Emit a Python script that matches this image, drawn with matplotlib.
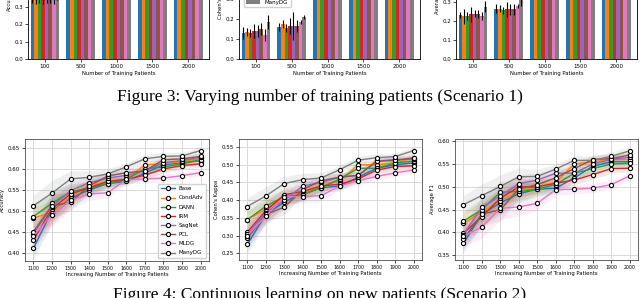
import numpy as np
import matplotlib.pyplot as plt

methods = ['Base', 'CondAdv', 'DANN', 'IRM', 'SagNet', 'PCL', 'MLDG', 'ManyDG']
colors = ['tab:blue', 'tab:orange', 'tab:green', 'tab:red',
          'tab:purple', 'tab:brown', 'tab:pink', 'tab:gray']

# ---- Figure 3 (bar charts, top part cropped) ----
bar_groups = ['100', '500', '1000', '1500', '2000']

bar_acc = [[0.35, 0.345, 0.35, 0.345, 0.35, 0.35, 0.345, 0.37],
           [0.43, 0.43, 0.42, 0.43, 0.43, 0.43, 0.44, 0.46],
           [0.53, 0.53, 0.53, 0.53, 0.54, 0.54, 0.52, 0.56],
           [0.58, 0.58, 0.58, 0.57, 0.58, 0.59, 0.56, 0.60],
           [0.61, 0.61, 0.61, 0.60, 0.62, 0.62, 0.59, 0.64]]
bar_acc_err = [0.03, 0.02, 0.015, 0.01, 0.01]

bar_kappa = [[0.130, 0.133, 0.132, 0.140, 0.142, 0.150, 0.122, 0.185],
             [0.160, 0.175, 0.155, 0.165, 0.165, 0.165, 0.185, 0.210],
             [0.40, 0.41, 0.40, 0.40, 0.41, 0.42, 0.39, 0.44],
             [0.46, 0.47, 0.46, 0.46, 0.47, 0.47, 0.45, 0.49],
             [0.50, 0.51, 0.50, 0.49, 0.51, 0.51, 0.48, 0.53]]
kappa_bar_err = [[0.03, 0.02, 0.02, 0.035, 0.03, 0.03, 0.03, 0.035],
                 [0.02, 0.02, 0.02, 0.04, 0.07, 0.03, 0.01, 0.01],
                 [0.02, 0.02, 0.02, 0.02, 0.02, 0.02, 0.02, 0.02],
                 [0.01, 0.01, 0.01, 0.01, 0.01, 0.01, 0.01, 0.01],
                 [0.01, 0.01, 0.01, 0.01, 0.01, 0.01, 0.01, 0.01]]

bar_f1 = [[0.230, 0.225, 0.225, 0.235, 0.238, 0.235, 0.225, 0.275],
          [0.265, 0.265, 0.255, 0.260, 0.260, 0.260, 0.280, 0.310],
          [0.45, 0.46, 0.45, 0.45, 0.46, 0.46, 0.44, 0.49],
          [0.51, 0.52, 0.51, 0.51, 0.52, 0.52, 0.50, 0.54],
          [0.54, 0.55, 0.54, 0.53, 0.55, 0.55, 0.52, 0.57]]
f1_bar_err = [[0.015, 0.04, 0.02, 0.04, 0.02, 0.02, 0.02, 0.03],
              [0.025, 0.02, 0.02, 0.04, 0.03, 0.03, 0.01, 0.03],
              [0.02, 0.02, 0.02, 0.02, 0.02, 0.02, 0.02, 0.02],
              [0.01, 0.01, 0.01, 0.01, 0.01, 0.01, 0.01, 0.01],
              [0.01, 0.01, 0.01, 0.01, 0.01, 0.01, 0.01, 0.01]]

# ---- Figure 4 (line charts) ----
patients = [1100, 1200, 1300, 1400, 1500, 1600, 1700, 1800, 1900, 2000]

acc = {
    'Base':    [0.410, 0.500, 0.530, 0.550, 0.565, 0.570, 0.590, 0.610, 0.615, 0.620],
    'CondAdv': [0.483, 0.495, 0.535, 0.560, 0.570, 0.575, 0.610, 0.612, 0.618, 0.625],
    'DANN':    [0.486, 0.518, 0.545, 0.555, 0.565, 0.575, 0.600, 0.605, 0.612, 0.622],
    'IRM':     [0.430, 0.505, 0.540, 0.555, 0.570, 0.575, 0.585, 0.600, 0.608, 0.612],
    'SagNet':  [0.445, 0.510, 0.548, 0.567, 0.578, 0.585, 0.595, 0.615, 0.620, 0.628],
    'PCL':     [0.450, 0.512, 0.520, 0.560, 0.583, 0.591, 0.595, 0.622, 0.624, 0.630],
    'MLDG':    [0.440, 0.490, 0.525, 0.540, 0.543, 0.575, 0.576, 0.578, 0.584, 0.591],
    'ManyDG':  [0.512, 0.542, 0.576, 0.580, 0.588, 0.605, 0.624, 0.630, 0.631, 0.644],
}
acc_std = [0.025, 0.03, 0.02, 0.015, 0.012, 0.01, 0.01, 0.01, 0.008, 0.008]

kappa = {
    'Base':    [0.275, 0.360, 0.395, 0.420, 0.435, 0.440, 0.465, 0.490, 0.500, 0.505],
    'CondAdv': [0.345, 0.375, 0.405, 0.420, 0.440, 0.455, 0.500, 0.500, 0.505, 0.520],
    'DANN':    [0.345, 0.383, 0.410, 0.415, 0.435, 0.460, 0.490, 0.490, 0.505, 0.510],
    'IRM':     [0.310, 0.370, 0.415, 0.425, 0.440, 0.445, 0.460, 0.485, 0.495, 0.497],
    'SagNet':  [0.305, 0.365, 0.400, 0.440, 0.450, 0.465, 0.470, 0.510, 0.515, 0.515],
    'PCL':     [0.292, 0.360, 0.380, 0.430, 0.455, 0.465, 0.470, 0.510, 0.512, 0.520],
    'MLDG':    [0.300, 0.355, 0.410, 0.410, 0.413, 0.440, 0.455, 0.467, 0.477, 0.485],
    'ManyDG':  [0.382, 0.412, 0.447, 0.458, 0.463, 0.486, 0.513, 0.520, 0.523, 0.540],
}
kappa_std = [0.025, 0.025, 0.02, 0.018, 0.015, 0.012, 0.012, 0.01, 0.01, 0.01]

f1 = {
    'Base':    [0.376, 0.440, 0.465, 0.485, 0.495, 0.497, 0.520, 0.545, 0.555, 0.555],
    'CondAdv': [0.420, 0.445, 0.470, 0.490, 0.500, 0.510, 0.550, 0.555, 0.560, 0.560],
    'DANN':    [0.425, 0.450, 0.488, 0.490, 0.495, 0.505, 0.530, 0.540, 0.550, 0.552],
    'IRM':     [0.398, 0.435, 0.475, 0.500, 0.500, 0.508, 0.515, 0.527, 0.540, 0.541],
    'SagNet':  [0.395, 0.455, 0.480, 0.507, 0.515, 0.530, 0.530, 0.550, 0.560, 0.565],
    'PCL':     [0.385, 0.440, 0.450, 0.495, 0.505, 0.520, 0.540, 0.560, 0.562, 0.570],
    'MLDG':    [0.392, 0.412, 0.453, 0.456, 0.464, 0.494, 0.495, 0.497, 0.505, 0.524],
    'ManyDG':  [0.461, 0.481, 0.501, 0.522, 0.523, 0.539, 0.558, 0.558, 0.567, 0.579],
}
f1_std = [0.02, 0.025, 0.025, 0.02, 0.015, 0.012, 0.01, 0.01, 0.01, 0.008]

W, H = 640, 298
fig = plt.figure(figsize=(W / 100, H / 100), dpi=100)
plt.rcParams['font.family'] = 'DejaVu Sans'


def px_axes(left, bottom, width, height):
    # pixel box (left, bottom edge y from top, width, height) -> axes
    return fig.add_axes([left / W, 1 - bottom / H, width / W, height / H])


def bar_panel(ax, vals, errs, ylabel, ytop):
    vals = np.array(vals)
    errs = np.array(errs, dtype=float)
    if errs.ndim == 1:
        errs = np.repeat(errs[:, None], len(methods), axis=1)
    x = np.arange(len(bar_groups))
    w = 0.1
    for i, m in enumerate(methods):
        ax.bar(x + (i - 3.5) * w, vals[:, i], w, color=colors[i], label=m,
               yerr=errs[:, i], error_kw=dict(ecolor='black', elinewidth=0.8, capsize=0))
    ax.set_xticks(x)
    ax.set_xticklabels(bar_groups)
    ax.set_xlim(-0.47, 4.58)
    ax.set_ylim(0, ytop)
    ax.set_yticks(np.arange(0, ytop, 0.1))
    ax.set_yticklabels(['%.1f' % t for t in np.arange(0, ytop, 0.1)])
    ax.tick_params(labelsize=4, length=2, width=0.5, pad=1.5)
    ax.set_xlabel('Number of Training Patients', fontsize=3.8, labelpad=1.5)
    ax.set_ylabel(ylabel, fontsize=3.8, labelpad=2)
    for s in ax.spines.values():
        s.set_linewidth(0.6)


ax1 = px_axes(28, 59, 181, 120)
bar_panel(ax1, bar_acc, bar_acc_err, 'Accuracy', 0.69)
ax2 = px_axes(239, 59, 181, 120)
bar_panel(ax2, bar_kappa, kappa_bar_err, "Cohen's Kappa", 0.6)
ax3 = px_axes(456, 59, 181, 120)
bar_panel(ax3, bar_f1, f1_bar_err, 'Average F1', 0.63)
ax2.legend(loc='lower left', bbox_to_anchor=(241 / W, 1 - 10 / H),
           bbox_transform=fig.transFigure, fontsize=4, framealpha=0.9,
           handlelength=2.5, borderpad=0.4, labelspacing=0.6, edgecolor='0.8')


def line_panel(ax, data, std, ylabel, ylim, yticks, legend=False):
    std = np.array(std)
    for i, m in enumerate(methods):
        y = np.array(data[m])
        ax.fill_between(patients, y - std, y + std, color=colors[i], alpha=0.12, lw=0)
    for i, m in enumerate(methods):
        ax.plot(patients, data[m], '-o', color=colors[i], lw=1.0, label=m,
                markersize=3.0, markerfacecolor='white', markeredgecolor='black',
                markeredgewidth=0.8)
    ax.set_xticks(patients)
    ax.set_ylim(*ylim)
    ax.set_yticks(yticks)
    ax.set_yticklabels(['%.2f' % t for t in yticks])
    ax.grid(True, color='0.85', lw=0.7)
    ax.set_axisbelow(True)
    ax.tick_params(axis='y', labelsize=4, length=2, width=0.5, pad=1.5)
    ax.tick_params(axis='x', labelsize=3.4, length=2, width=0.5, pad=1.5)
    ax.set_xlabel('Increasing Number of Training Patients', fontsize=3.8, labelpad=1)
    ax.set_ylabel(ylabel, fontsize=3.8, labelpad=2)
    for s in ax.spines.values():
        s.set_linewidth(0.6)
        s.set_color('0.3')
    if legend:
        ax.legend(loc='lower right', fontsize=4, handlelength=2.5,
                  labelspacing=0.75, borderpad=0.5, framealpha=0.9, edgecolor='0.8')


bx1 = px_axes(25, 261, 184, 122)
line_panel(bx1, acc, acc_std, 'Accuracy', (0.38, 0.6715),
           [0.40, 0.45, 0.50, 0.55, 0.60, 0.65], legend=True)
bx2 = px_axes(239, 260, 183, 121)
line_panel(bx2, kappa, kappa_std, "Cohen's Kappa", (0.231, 0.5727),
           [0.25, 0.30, 0.35, 0.40, 0.45, 0.50, 0.55])
bx3 = px_axes(455, 260, 183, 121)
line_panel(bx3, f1, f1_std, 'Average F1', (0.3397, 0.605),
           [0.35, 0.40, 0.45, 0.50, 0.55, 0.60])

fig.text(0.5, 1 - 101 / H, 'Figure 3: Varying number of training patients (Scenario 1)',
         ha='center', va='baseline', fontsize=12.5, family='Liberation Serif')
fig.text(0.5, 1 - 299 / H, 'Figure 4: Continuous learning on new patients (Scenario 2)',
         ha='center', va='baseline', fontsize=12.5, family='Liberation Serif')

fig.savefig('out.png', dpi=100)
